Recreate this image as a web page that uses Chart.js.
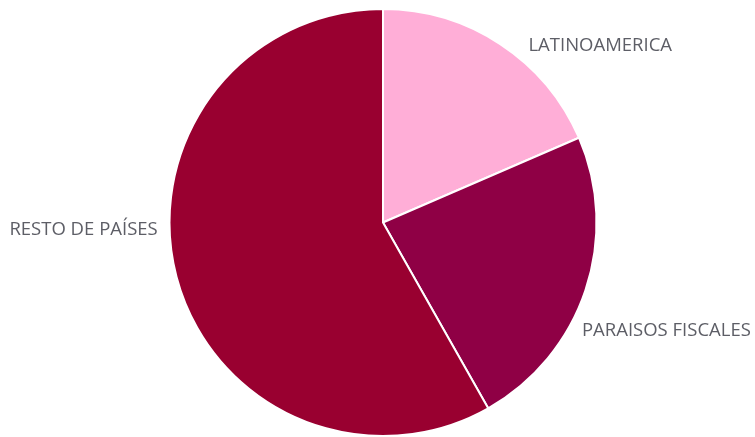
<!DOCTYPE html>
<html>
<head>
<meta charset="utf-8">
<script src="https://cdn.jsdelivr.net/npm/chart.js@4"></script>
<style>
html,body{margin:0;padding:0;background:#fff;}
#wrap{width:755px;height:437px;}
</style>
</head>
<body>
<div id="wrap"><canvas id="c" width="755" height="437"></canvas></div>
<script>
const categories = ["LATINOAMERICA", "PARAISOS FISCALES", "RESTO DE PAÍSES"];
const values = [18.5, 23.3, 58.2];
const colors = ["#FFAED7", "#8F0045", "#990030"];
// label offsets (px) from the arc's mid-angle point on the rim
const labelOffsets = [[100, 2], [81, 40], [-93, -47]];

const outsideLabels = {
  id: 'outsideLabels',
  afterDatasetsDraw(chart) {
    const ctx = chart.ctx;
    const meta = chart.getDatasetMeta(0);
    ctx.save();
    ctx.font = '18.5px "Open Sans"';
    ctx.fillStyle = '#5d5e66';
    ctx.textAlign = 'center';
    ctx.textBaseline = 'middle';
    meta.data.forEach((arc, i) => {
      const mid = (arc.startAngle + arc.endAngle) / 2;
      const x = arc.x + Math.cos(mid) * arc.outerRadius + labelOffsets[i][0];
      const y = arc.y + Math.sin(mid) * arc.outerRadius + labelOffsets[i][1];
      ctx.fillText(chart.data.labels[i], x, y);
    });
    ctx.restore();
  }
};

new Chart(document.getElementById('c'), {
  type: 'pie',
  data: {
    labels: categories,
    datasets: [{
      data: values,
      backgroundColor: colors,
      borderColor: '#ffffff',
      borderWidth: 2
    }]
  },
  options: {
    responsive: false,
    animation: false,
    layout: { padding: { left: 11, right: 0, top: 8, bottom: -4 } },
    plugins: { legend: { display: false }, tooltip: { enabled: false } }
  },
  plugins: [outsideLabels]
});
</script>
</body>
</html>
